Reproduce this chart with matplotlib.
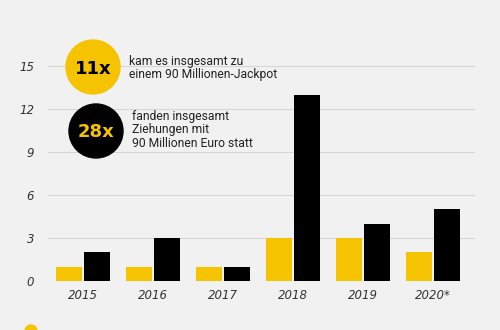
import matplotlib
matplotlib.use("Agg")
import matplotlib.pyplot as plt
from matplotlib.patches import Ellipse
import numpy as np

years = ["2015", "2016", "2017", "2018", "2019", "2020*"]
jackpot = [1, 1, 1, 3, 3, 2]        # yellow: 90 Mio jackpot
draws = [2, 3, 1, 13, 4, 5]         # black: draws with 90 Mio
yticks = [0, 3, 6, 9, 12, 15]

YELLOW = "#f5c300"
BG = "#f1f1f1"

fig = plt.figure(figsize=(5, 3.3), dpi=100, facecolor=BG)
ax = fig.add_axes([0.096, 0.1485, 0.854, 0.6945])
ax.set_facecolor(BG)

x = np.arange(len(years))
w = 0.37
ax.bar(x - w / 2 - 0.012, jackpot, width=w, color=YELLOW, zorder=3)
ax.bar(x + w / 2 + 0.012, draws, width=w, color="black", zorder=3)

ax.set_xlim(-0.5, 5.6)
ax.set_ylim(0, 16)
ax.set_yticks(yticks)
ax.set_yticklabels([str(t) for t in yticks], fontstyle="italic", color="#333333", fontsize=8.5)
ax.set_xticks(x)
ax.set_xticklabels(years, fontstyle="italic", color="#333333", fontsize=8.5)
ax.tick_params(length=0, pad=6)
ax.tick_params(axis="y", pad=10)
ax.grid(axis="y", color="#d6d6d6", linewidth=0.8, zorder=0)
for s in ax.spines.values():
    s.set_visible(False)

# annotation circles
def circle(cx, cy, r, color):
    fig.add_artist(Ellipse((cx / 500, 1 - cy / 330), 2 * r / 500, 2 * r / 330,
                           transform=fig.transFigure, color=color, zorder=5))

circle(93, 67, 27, YELLOW)
fig.text(93 / 500, 1 - 69 / 330, "11x", ha="center", va="center",
         fontsize=13, fontweight="heavy", color="black", zorder=6)
fig.text(129 / 500, 1 - 68 / 330, "kam es insgesamt zu\neinem 90 Millionen-Jackpot",
         ha="left", va="center", fontsize=8.7, family="Roboto", color="#222222", linespacing=1.05)

circle(96, 131, 27, "black")
fig.text(96 / 500, 1 - 132 / 330, "28x", ha="center", va="center",
         fontsize=13, fontweight="heavy", color=YELLOW, zorder=6)
fig.text(132 / 500, 1 - 130 / 330, "fanden insgesamt\nZiehungen mit\n90 Millionen Euro statt",
         ha="left", va="center", fontsize=8.7, family="Roboto", color="#222222", linespacing=1.05)

# partially visible legend dot at the bottom
circle(31, 331, 6, YELLOW)

fig.savefig("out.png", dpi=100, facecolor=BG)
